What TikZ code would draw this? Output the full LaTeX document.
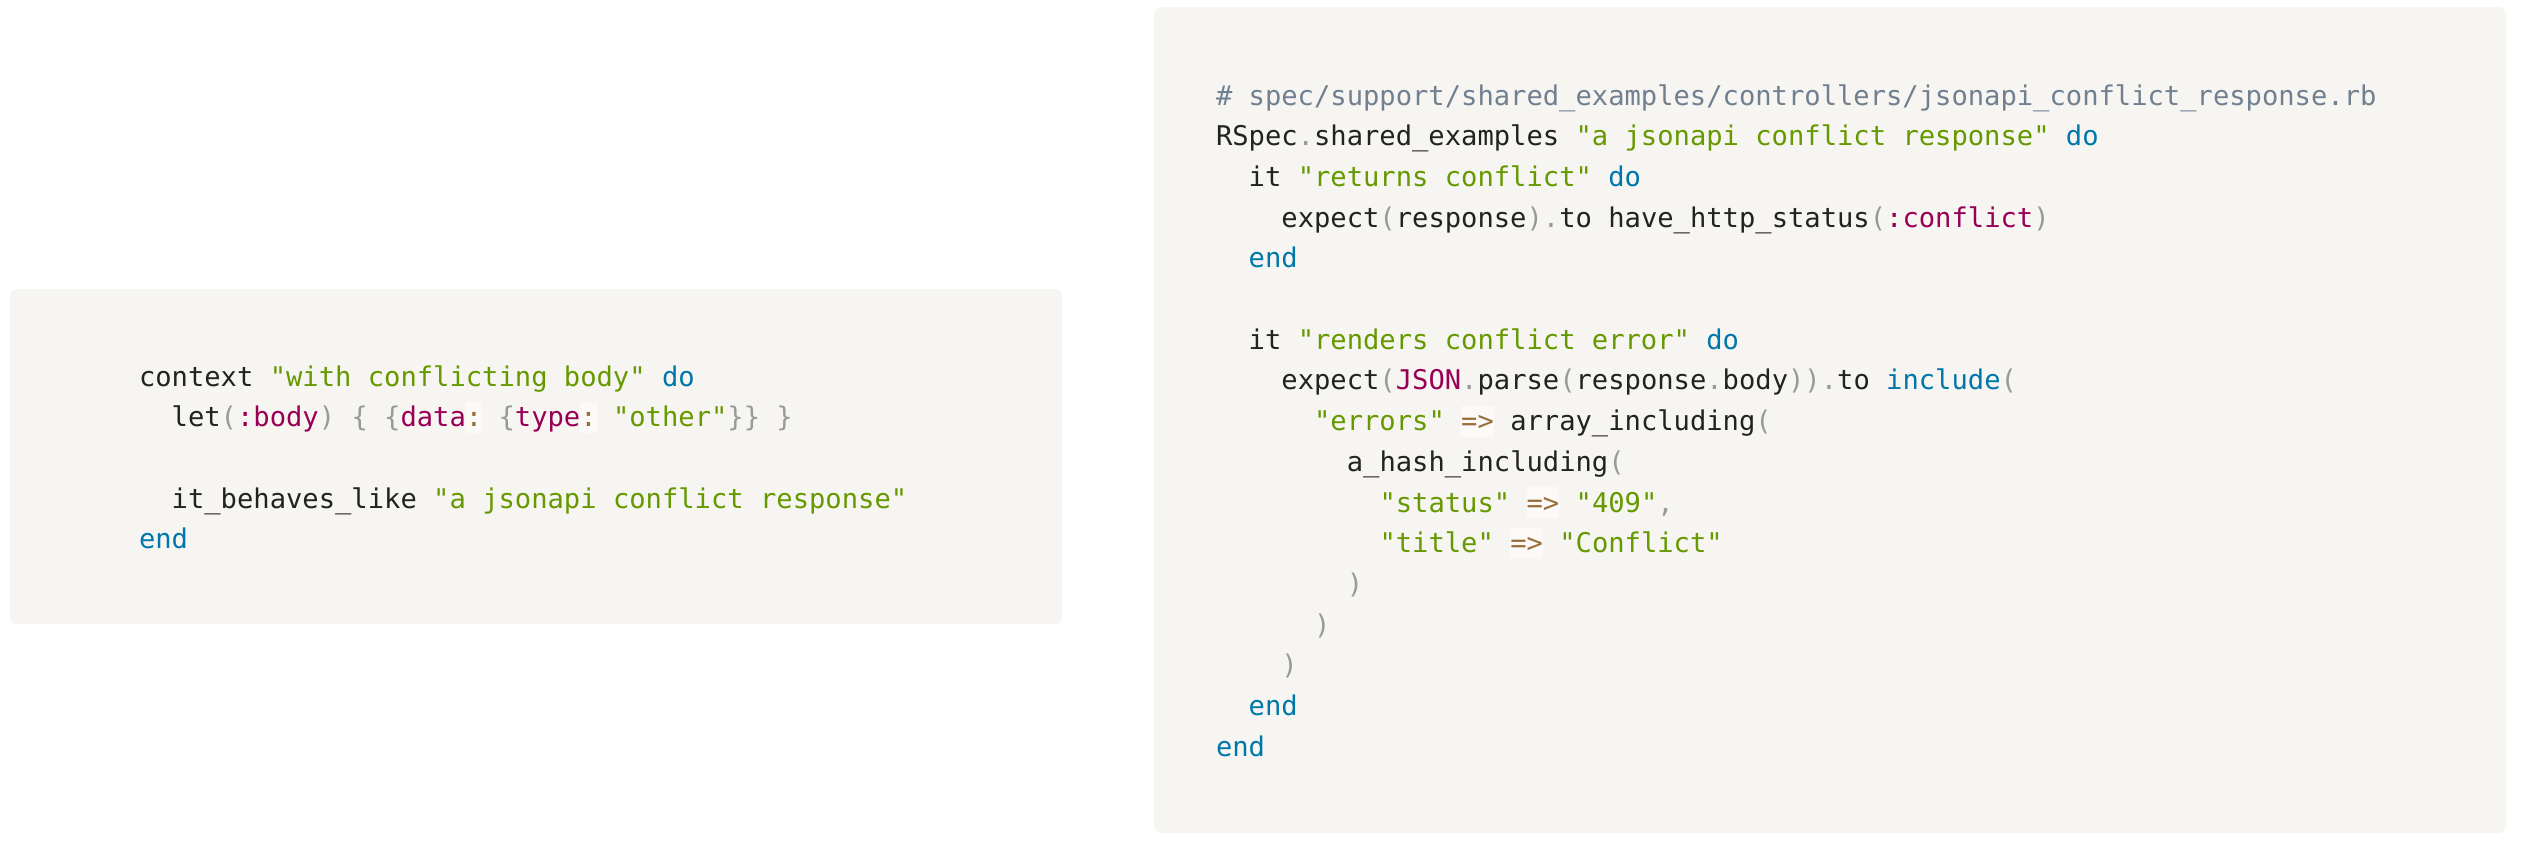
\documentclass[tikz,border=0pt]{standalone}
\usepackage{fontspec}
\newfontfamily\codefont{DejaVu Sans Mono}[Ligatures=TeXOff]
\definecolor{codebg}{HTML}{F6F5F2}
\definecolor{opbg}{HTML}{FBFAF8}
\definecolor{cplain}{HTML}{222222}
\definecolor{cstr}{HTML}{669900}
\definecolor{ckw}{HTML}{0077AA}
\definecolor{csym}{HTML}{990055}
\definecolor{cpun}{HTML}{999999}
\definecolor{cop}{HTML}{9A6E3A}
\definecolor{ccmt}{HTML}{708090}
\newcommand\tkS[1]{\textcolor{cstr}{#1}}
\newcommand\tkK[1]{\textcolor{ckw}{#1}}
\newcommand\tkY[1]{\textcolor{csym}{#1}}
\newcommand\tkP[1]{\textcolor{cpun}{#1}}
\newcommand\tkC[1]{\textcolor{ccmt}{#1}}
\newcommand\tkO[1]{{\setlength\fboxsep{0pt}\colorbox{opbg}{\rule[-6pt]{0pt}{31pt}\textcolor{cop}{#1}}}}
\tikzset{
  codeline/.style={anchor=base west, inner sep=0pt, outer sep=0pt,
    font=\codefont\fontsize{27.15}{32}\selectfont, text=cplain},
  codebox/.style={fill=codebg, rounded corners=7pt}
}
\def\cw{16.35}
\def\lxz{139}
\def\rxz{1216}
\begin{document}
\begin{tikzpicture}[x=1pt,y=-1pt]
\useasboundingbox (0,0) rectangle (2528,844);
\fill[white] (0,0) rectangle (2528,844);
% boxes
\fill[codebox] (10,289) rectangle (1062,624);
\fill[codebox] (1154,7) rectangle (2506,833);
% left code
\node[codeline] (l1) at (\lxz,386) {context \tkS{"with conflicting body"} \tkK{do}};
\node[codeline] (l2) at ({\lxz+2*\cw},426.7) {let\tkP{(}\tkY{:body}\tkP{)} \tkP{\{} \tkP{\{}\tkY{data}\tkO{:} \tkP{\{}\tkY{type}\tkO{:} \tkS{"other"}\tkP{\}\}} \tkP{\}}};
\node[codeline] (l4) at ({\lxz+2*\cw},508.1) {it\_behaves\_like \tkS{"a jsonapi conflict response"}};
\node[codeline] (l5) at (\lxz,548.8) {\tkK{end}};
% right code
\node[codeline] (r0) at (\rxz,105) {\tkC{\# spec/support/shared\_examples/controllers/jsonapi\_conflict\_response.rb}};
\node[codeline] (r1) at (\rxz,145.7) {RSpec\tkP{.}shared\_examples \tkS{"a jsonapi conflict response"} \tkK{do}};
\node[codeline] (r2) at ({\rxz+2*\cw},186.4) {it \tkS{"returns conflict"} \tkK{do}};
\node[codeline] (r3) at ({\rxz+4*\cw},227.1) {expect\tkP{(}response\tkP{)}\tkP{.}to have\_http\_status\tkP{(}\tkY{:conflict}\tkP{)}};
\node[codeline] (r4) at ({\rxz+2*\cw},267.8) {\tkK{end}};
\node[codeline] (r6) at ({\rxz+2*\cw},349.2) {it \tkS{"renders conflict error"} \tkK{do}};
\node[codeline] (r7) at ({\rxz+4*\cw},389.9) {expect\tkP{(}\tkY{JSON}\tkP{.}parse\tkP{(}response\tkP{.}body\tkP{))}\tkP{.}to \tkK{include}\tkP{(}};
\node[codeline] (r8) at ({\rxz+6*\cw},430.6) {\tkS{"errors"} \tkO{=>} array\_including\tkP{(}};
\node[codeline] (r9) at ({\rxz+8*\cw},471.3) {a\_hash\_including\tkP{(}};
\node[codeline] (r10) at ({\rxz+10*\cw},512) {\tkS{"status"} \tkO{=>} \tkS{"409"}\tkP{,}};
\node[codeline] (r11) at ({\rxz+10*\cw},552.7) {\tkS{"title"} \tkO{=>} \tkS{"Conflict"}};
\node[codeline] (r12) at ({\rxz+8*\cw},593.4) {\tkP{)}};
\node[codeline] (r13) at ({\rxz+6*\cw},634.1) {\tkP{)}};
\node[codeline] (r14) at ({\rxz+4*\cw},674.8) {\tkP{)}};
\node[codeline] (r15) at ({\rxz+2*\cw},715.5) {\tkK{end}};
\node[codeline] (r16) at (\rxz,756.2) {\tkK{end}};
\end{tikzpicture}
\end{document}
